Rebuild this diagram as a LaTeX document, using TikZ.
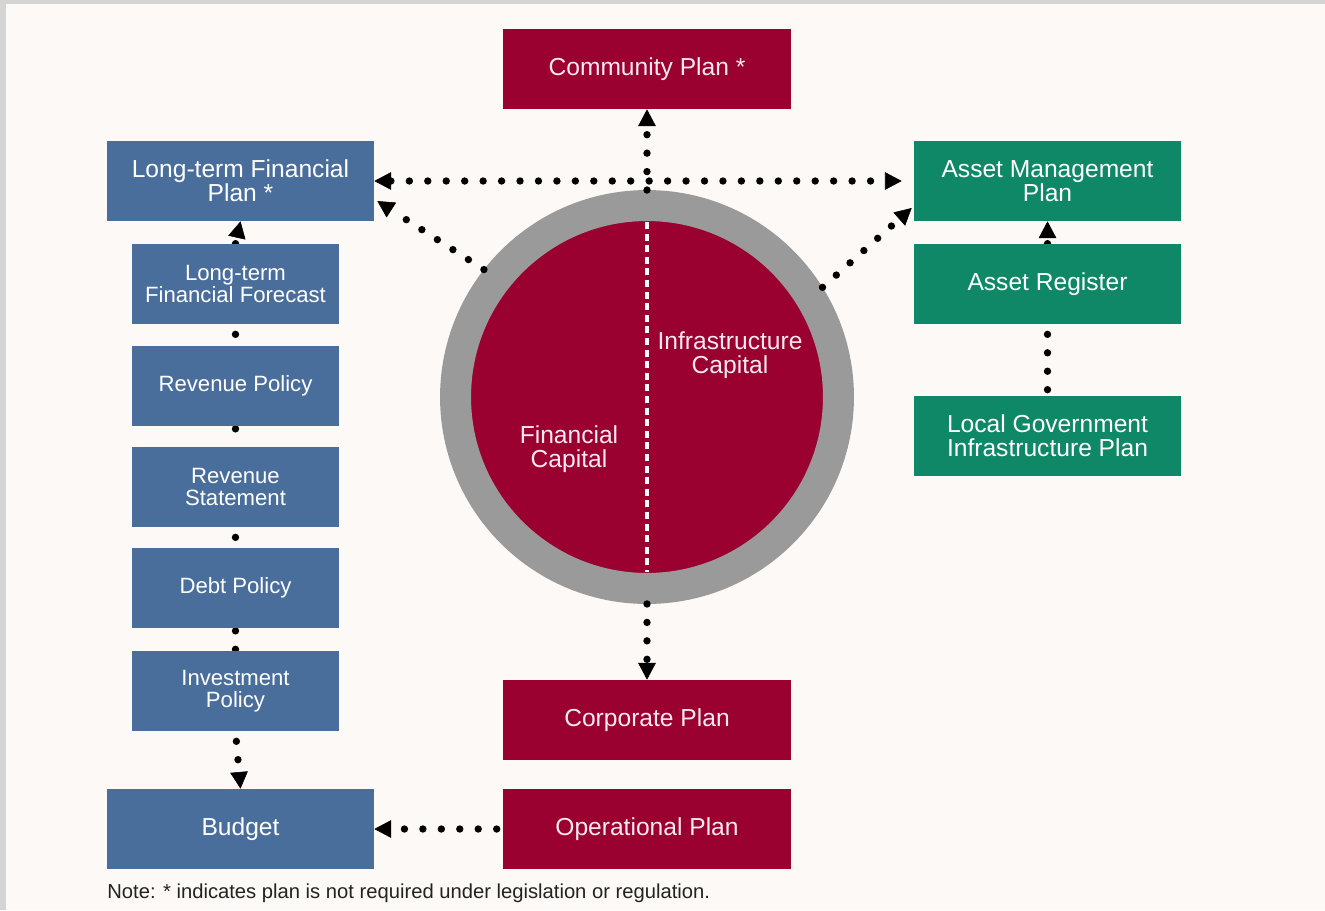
\documentclass[tikz,border=0pt]{standalone}
\usepackage{fontspec}
\setmainfont{Liberation Sans}
\usetikzlibrary{arrows.meta,backgrounds,calc}
\definecolor{bluebox}{HTML}{4A6E9B}
\definecolor{redbox}{HTML}{9A0030}
\definecolor{greenbox}{HTML}{0F8868}
\definecolor{ringgray}{HTML}{9A9A9A}
\definecolor{pagebg}{HTML}{FDF9F6}
\definecolor{framegray}{HTML}{D4D4D4}
\definecolor{notetext}{HTML}{222222}
\definecolor{pinkwhite}{HTML}{FBEAF0}
\begin{document}
\begin{tikzpicture}[x=0.02cm,y=-0.02cm,
  >={Triangle[length=9.5pt,width=10pt,line width=0.3pt]},
  box/.style={rectangle, inner sep=0pt, text=white, align=center, font=\fontsize{14}{13.5}\selectfont},
  bigbox/.style={box, minimum width=5.34cm, minimum height=1.6cm},
  midbox/.style={box, minimum width=5.76cm, minimum height=1.6cm, text=pinkwhite},
  smallbox/.style={box, minimum width=4.14cm, minimum height=1.6cm, font=\fontsize{12.6}{12.5}\selectfont},
  dotline/.style={line width=4.2pt, line cap=round, dash pattern=on 0pt off 10.5pt, black},
  captext/.style={text=pinkwhite, align=center, font=\fontsize{14}{13.5}\selectfont}
]
\useasboundingbox (0,0) rectangle (1325,910);
\begin{scope}[on background layer]
  \fill[framegray] (0,0) rectangle (1325,910);
  \fill[pagebg] (6,4) rectangle (1325,910);
\end{scope}

% central circle
\node[circle, fill=redbox, draw=ringgray, line width=0.62cm, minimum size=7.66cm, inner sep=0pt] (circ) at (647,397) {};
\draw[white, line width=2pt, dash pattern=on 4pt off 2.6pt] ([yshift=3.5cm]circ.center) -- ([yshift=-3.5cm]circ.center);
\node[captext] (infra) at (730,355) {Infrastructure\\Capital};
\node[captext] (fin) at (569,449) {Financial\\Capital};

% left column
\node[bigbox, fill=bluebox] (ltfp) at (240.5,181) {Long-term Financial\\Plan *};
\node[smallbox, fill=bluebox] (ltff) at (235.5,284) {Long-term\\Financial Forecast};
\node[smallbox, fill=bluebox] (revpol) at (235.5,386) {Revenue Policy};
\node[smallbox, fill=bluebox] (revst) at (235.5,487) {Revenue\\Statement};
\node[smallbox, fill=bluebox] (debt) at (235.5,588) {Debt Policy};
\node[smallbox, fill=bluebox] (inv) at (235.5,691) {Investment\\Policy};
\node[bigbox, fill=bluebox] (budget) at (240.5,829) {Budget};

% centre column
\node[midbox, fill=redbox] (comm) at (647,69) {Community Plan *};
\node[midbox, fill=redbox] (corp) at (647,720) {Corporate Plan};
\node[midbox, fill=redbox] (oper) at (647,829) {Operational Plan};

% right column
\node[bigbox, fill=greenbox] (amp) at (1047.5,181) {Asset Management\\Plan};
\node[bigbox, fill=greenbox] (areg) at (1047.5,284) {Asset Register};
\node[bigbox, fill=greenbox] (lgip) at (1047.5,436) {Local Government\\Infrastructure Plan};

% note
\node[anchor=west, inner sep=0pt, text=notetext, font=\fontsize{11.5}{13}\selectfont] (note) at (107,893) {Note: * indicates plan is not required under legislation or regulation.};

% connectors in front
\coordinate (ltfpin) at ($(ltfp.east)+(3,20)$);
\coordinate (ampin) at ($(amp.west)+(-2,27)$);
\draw[dotline,<->] (ltfp.east) -- ([xshift=-0.24cm]amp.west);
\draw[dotline,->] (circ.north) -- (comm.south);
\draw[dotline,->] (circ.142) -- (ltfpin);
\draw[dotline,->] (circ.32) -- (ampin);
\draw[dotline,->] (circ.south) -- (corp.north);

% connectors behind boxes
\begin{scope}[on background layer]
  \draw[dotline,->] (ltff.north) -- (ltfp.south);
  \draw[dotline, shorten <=0.2cm] (ltff.south) -- (revpol.north);
  \draw[dotline, shorten <=0.05cm] (revpol.south) -- (revst.north);
  \draw[dotline, shorten <=0.2cm] (revst.south) -- (debt.north);
  \draw[dotline, shorten <=0.05cm] (debt.south) -- (inv.north);
  \draw[dotline,->, shorten <=0.2cm] (inv.south) -- (budget.north);
  \draw[dotline,->, shorten <=0.12cm] (oper.west) -- (budget.east);
  \draw[dotline,->] (areg.north) -- (amp.south);
  \draw[dotline, shorten <=0.2cm] (areg.south) -- (lgip.north);
\end{scope}
\end{tikzpicture}
\end{document}
